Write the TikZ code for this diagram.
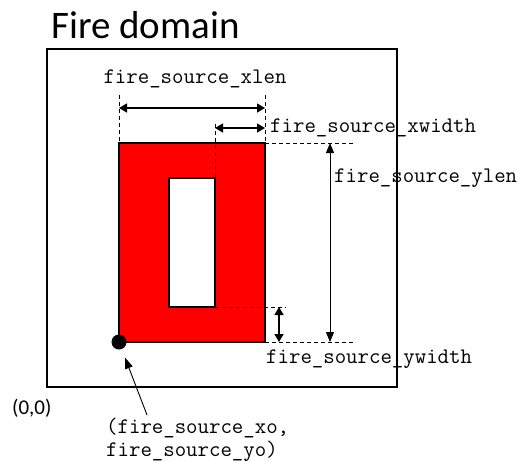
\documentclass[tikz,border=0pt]{standalone}
\usepackage{fontspec}
\setmainfont{Carlito}
\usetikzlibrary{arrows.meta,calc}
\tikzset{
  dim/.style={line width=1.4pt,{Triangle[length=8pt,width=9pt]}-{Triangle[length=8pt,width=9pt]}},
  thindim/.style={line width=0.9pt,{Triangle[length=10pt,width=8pt]}-{Triangle[length=10pt,width=8pt]}},
  guide/.style={line width=0.8pt,dash pattern=on 4pt off 3pt},
  lbl/.style={inner sep=0pt,font=\fontsize{22.2}{23}\selectfont\ttfamily},
  sanslbl/.style={inner sep=0pt,font=\fontsize{21}{24}\selectfont},
}
\begin{document}
\begin{tikzpicture}[x=1pt,y=-1pt]
\useasboundingbox (0,0) rectangle (525,461);
% title
\node[inner sep=0pt,anchor=west,font=\fontsize{39}{41}\selectfont] (title) at (51,25) {Fire domain};
% domain
\draw[line width=2pt] (47,49) rectangle (397,387);
% fire source
\coordinate (rbl) at (119,342);
\coordinate (rtr) at (265,143);
\coordinate (ibl) at (169,307);
\coordinate (itr) at (215,178);
\fill[red] (rbl) rectangle (rtr);
\draw[line width=1.5pt] (rbl) rectangle (rtr);
\fill[white] (ibl) rectangle (itr);
\draw[line width=1.3pt] (ibl) rectangle (itr);
% guides
\draw[guide] (119,95) -- (119,143);
\draw[guide] (265,95) -- (265,143);
\draw[guide] (215,124) -- (215,178);
\draw[guide] (265,143) -- (355,143);
\draw[guide] (265,342) -- (355,342);
\draw[guide] (215,307) -- (286,307);
% dimension arrows
\coordinate (xl1) at (119,108); \coordinate (xl2) at (265,108);
\draw[dim] (xl1) -- (xl2);
\coordinate (xw1) at (215,128); \coordinate (xw2) at (265,128);
\draw[dim] (xw1) -- (xw2);
\coordinate (yl1) at (330,143); \coordinate (yl2) at (330,342);
\draw[thindim] (yl1) -- (yl2);
\coordinate (yw1) at (279,307); \coordinate (yw2) at (279,342);
\draw[dim] (yw1) -- (yw2);
% labels
\node[lbl] (lxlen) at (195,79) {fire\_source\_xlen};
\node[lbl,anchor=west] (lxw) at (270,128) {fire\_source\_xwidth};
\node[lbl,anchor=west] (lyl) at (334,178) {fire\_source\_ylen};
\node[lbl,anchor=west] (lyw) at (266,359) {fire\_source\_ywidth};
\node[sanslbl,anchor=west] (orig) at (12,408) {(0,0)};
\node[lbl,anchor=north west,align=left] (lo) at (106,418) {(fire\_source\_xo,\\fire\_source\_yo)};
% origin point
\node[circle,fill=black,inner sep=0pt,minimum size=15pt] (o) at (rbl) {};
\coordinate (as) at (147,415);
\draw[line width=0.9pt,-{Triangle[length=11pt,width=8pt]},shorten >=9pt] (as) -- (o);
\end{tikzpicture}
\end{document}
